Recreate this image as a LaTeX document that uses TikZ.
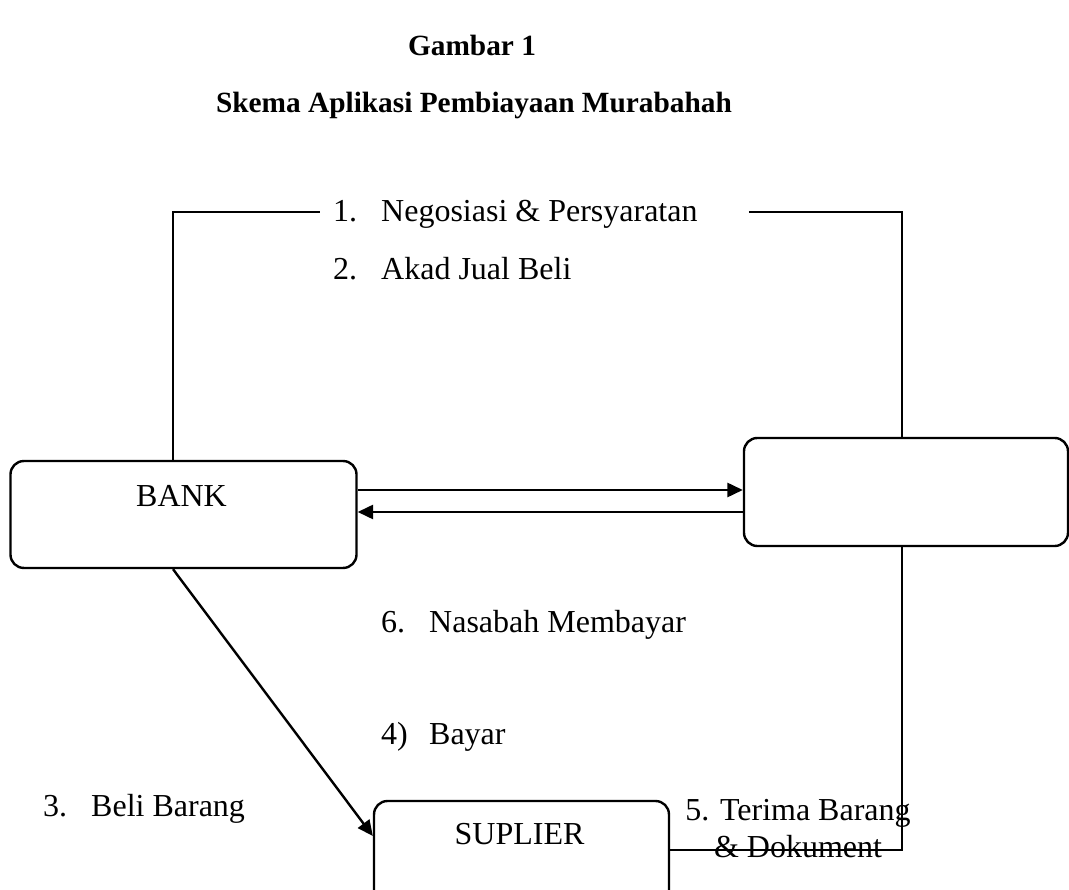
\documentclass[tikz,border=0pt]{standalone}
\usepackage{fontspec}
\setmainfont{Liberation Serif}
\usetikzlibrary{arrows.meta}

\begin{document}
\begin{tikzpicture}[x=0.375pt, y=-0.375pt, line width=0.9pt,
    font=\fontsize{12}{13.9}\selectfont,
    box/.style={draw, rounded corners=5pt, inner sep=0pt},
    lbl/.style={inner sep=0pt, anchor=base west},
    tip/.style={-{Triangle[length=5.8pt, width=5.3pt]}}]
        \def \tab {18pt}
        \useasboundingbox (0,0) rectangle (1069,890);
        \clip (0,0) rectangle (1069,890);

        \node[font=\fontsize{11}{13}\selectfont\bfseries] (title) at (472,45) {Gambar 1};
        \node[font=\fontsize{11}{13}\selectfont\bfseries] (subtitle) at (474,105) {Skema Aplikasi Pembiayaan Murabahah};

        \node[box, minimum width=129.75pt, minimum height=40.1pt] (bank) at (183.5,514.5) {};
        \node[box, minimum width=121.5pt, minimum height=40.5pt] (nasabah) at (906,492) {};
        \node[box, minimum width=110.6pt, minimum height=40.1pt] (suplier) at (521.5,854.5) {};
        \node (banktext) at (181.5,495.5) {BANK};
        \node (supliertext) at (519.5,834.5) {SUPLIER};

        \node[lbl] (n1) at (332,222) {\makebox[\tab][l]{1.}Negosiasi \& Persyaratan};
        \node[lbl] (n2) at (332,280) {\makebox[\tab][l]{2.}Akad Jual Beli};
        \node[lbl] (n6) at (380,633) {\makebox[\tab][l]{6.}Nasabah Membayar};
        \node[lbl] (n4) at (380,745) {\makebox[\tab][l]{4)}Bayar};
        \node[lbl] (n3) at (42,817) {\makebox[\tab][l]{3.}Beli Barang};
        \node[align=center, inner sep=0pt] (n5) at (798,829) {5. Terima Barang\\\& Dokument};

        \coordinate (tl) at (173,212);
        \coordinate (tr) at (902,212);
        \coordinate (br) at (902,850);
        \coordinate (up) at (0,490);
        \coordinate (dn) at (0,512);
        \coordinate (sin) at (0,836);

        \draw (tl |- bank.north) -- (tl) -- ([xshift=-4.5pt]tl -| n1.west);
        \draw ([xshift=18.75pt]tr -| n1.east) -- (tr) -- (tr |- nasabah.north);
        \draw (tr |- nasabah.south) -- (br) -- (br -| suplier.east);
        \draw[tip] (up -| bank.east) -- (up -| nasabah.west);
        \draw[tip] (dn -| nasabah.west) -- (dn -| bank.east);
        \draw[tip] (tl |- bank.south) -- (sin -| suplier.west);
      \end{tikzpicture}
\end{document}
